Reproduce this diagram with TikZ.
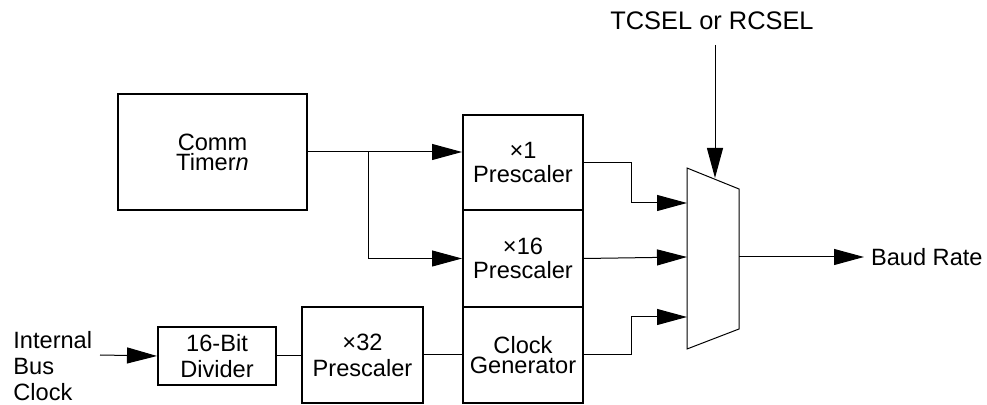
\documentclass[tikz,border=0pt]{standalone}
\usepackage{fontspec}
\setmainfont{Liberation Sans}
\usetikzlibrary{arrows.meta}

\tikzset{
  block/.style={draw, line width=1pt, align=center, inner sep=0pt},
  wire/.style={line width=0.5pt},
  sig/.style={wire, -{Triangle[length=15pt,width=8pt]}},
  txt/.style={font=\fontsize{11.8}{#1}\selectfont},
  txt/.default=12pt,
}

\begin{document}
\begin{tikzpicture}[x=0.5pt, y=-0.5pt, every node/.style={txt}]
  \useasboundingbox (0,0) rectangle (987,405);

  % timer block
  \node[block, txt=10pt, minimum width=94.5pt, minimum height=58pt] (comm) at (212.5,152) {Comm\\Timer\textit{n}};

  % prescaler column
  \node[block, minimum width=60pt, minimum height=47.5pt] (xone) at (523,162.5) {×1\\Prescaler};
  \node[block, minimum width=60pt, minimum height=48.5pt] (xsixteen) at (523,258.5) {×16\\Prescaler};
  \node[block, txt=10pt, minimum width=60pt, minimum height=48pt] (clkgen) at (523,355) {Clock\\Generator};

  % bus clock path
  \node[block, txt=13pt, minimum width=59pt, minimum height=29pt] (divider) at (217,356) {16-Bit\\Divider};
  \node[block, txt=13pt, minimum width=60.5pt, minimum height=48pt] (xthirtytwo) at (362.5,355) {×32\\Prescaler};
  \node[txt=13pt, align=left, anchor=west, inner sep=0pt] (busclk) at (13,366) {Internal\\Bus\\Clock};
  \coordinate (busin) at (100,355);

  % mux
  \draw[wire] (687,168) -- (739,189) -- (739,329) -- (687,349) -- cycle;
  \coordinate (muxin1) at (687,203);
  \coordinate (muxin2) at (687,257);
  \coordinate (muxin3) at (687,317);
  \coordinate (muxout) at (739,257);
  \coordinate (muxtop) at (715,178);

  % select and output labels
  \node[font=\fontsize{12.7}{14}\selectfont] (sel) at (712,21) {TCSEL or RCSEL};
  \coordinate (selin) at (715,45);
  \node[anchor=west] (baud) at (864,257) {Baud Rate};

  % connections
  \coordinate (tap) at (368,152);
  \draw[sig] (comm.east) -- (comm.east -| xone.west);
  \draw[sig] (tap) |- (xsixteen.west);
  \draw[sig] (busin) -- (divider.west);
  \draw[wire] (divider.east) -- (divider.east -| xthirtytwo.west);
  \draw[wire] (xthirtytwo.east) -- (clkgen.west);
  \draw[sig] (xone.east) -- ++(47,0) |- (muxin1);
  \draw[sig] (xsixteen.east) -- (muxin2);
  \draw[sig] (clkgen.east) -- ++(47,0) |- (muxin3);
  \draw[sig] (selin) -- (muxtop);
  \draw[sig] (muxout) -- (baud.west);
\end{tikzpicture}
\end{document}
